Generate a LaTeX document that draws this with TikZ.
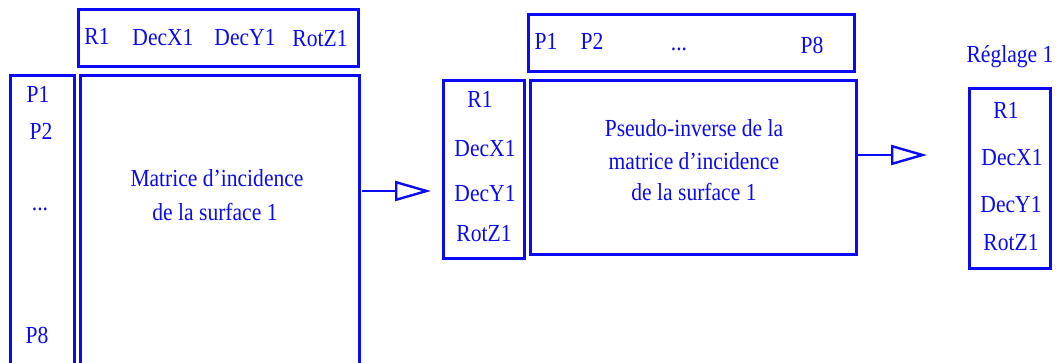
\documentclass[tikz,border=0pt]{standalone}
\usepackage{fontspec}
\setmainfont[FakeStretch=0.88]{Liberation Serif}
\usetikzlibrary{arrows.meta}
\definecolor{bleu}{RGB}{10,10,245}

\begin{document}
\begin{tikzpicture}[x=1pt, y=-1pt,
  boite/.style={draw=bleu, line width=2.6pt, anchor=north west, inner sep=0pt},
  lbl/.style={text=bleu, font=\fontsize{24.5}{28}\selectfont, anchor=base, inner sep=0pt},
  fleche/.style={draw=bleu, line width=2.4pt, -{Triangle[open, length=36pt, width=20pt]}}]

\clip (0,0) rectangle (1058,362);

%% === MATRICE D'INCIDENCE ===
\node[boite, minimum width=280pt, minimum height=57pt]  (colsA) at (77,8)  {};
\node[boite, minimum width=64pt,  minimum height=300pt] (ligA)  at (9,74)  {};
\node[boite, minimum width=279pt, minimum height=300pt] (matA)  at (79,74) {};

\foreach \t/\x/\y in {R1/97/44, DecX1/163/45, DecY1/245/45, RotZ1/320/46}
    \node[lbl] (cA-\t) at (\x,\y) {\t};

\foreach \t/\x/\y in {P1/38/102, P2/41/139, P8/37/343}
    \node[lbl] (lA-\t) at (\x,\y) {\t};
\node[lbl] (lA-pts) at (40,210) {...};

\node[lbl] (txtA1) at (217,186) {Matrice d’incidence};
\node[lbl] (txtA2) at (215,220) {de la surface 1};

%% === PSEUDO-INVERSE ===
\node[boite, minimum width=81pt,  minimum height=178pt] (ligB)  at (442,79) {};
\node[boite, minimum width=326pt, minimum height=57pt]  (colsB) at (527,13) {};
\node[boite, minimum width=326pt, minimum height=174pt] (matB)  at (529,79) {};

\foreach \t/\x/\y in {R1/480/107, DecX1/485/156, DecY1/485/201, RotZ1/484/241}
    \node[lbl] (lB-\t) at (\x,\y) {\t};

\foreach \t/\x/\y in {P1/546/49, P2/592/49, P8/812/53}
    \node[lbl] (cB-\t) at (\x,\y) {\t};
\node[lbl] (cB-pts) at (679,50) {...};

\node[lbl] (txtB1) at (694,136) {Pseudo-inverse de la};
\node[lbl] (txtB2) at (694,169) {matrice d’incidence};
\node[lbl] (txtB3) at (694,200) {de la surface 1};

%% === REGLAGE ===
\node[lbl] (titreC) at (1010,62) {Réglage 1};
\node[boite, minimum width=81pt, minimum height=180pt] (ligC) at (968,87) {};

\foreach \t/\x/\y in {R1/1006/118, DecX1/1012/165, DecY1/1011/212, RotZ1/1011/250}
    \node[lbl] (lC-\t) at (\x,\y) {\t};

%% fleches
\coordinate (f1a) at (362,191);
\coordinate (f1b) at (431,191);
\coordinate (f2a) at (858,155);
\coordinate (f2b) at (927,155);
\draw[fleche] (f1a) -- (f1b);
\draw[fleche] (f2a) -- (f2b);

\end{tikzpicture}
\end{document}
